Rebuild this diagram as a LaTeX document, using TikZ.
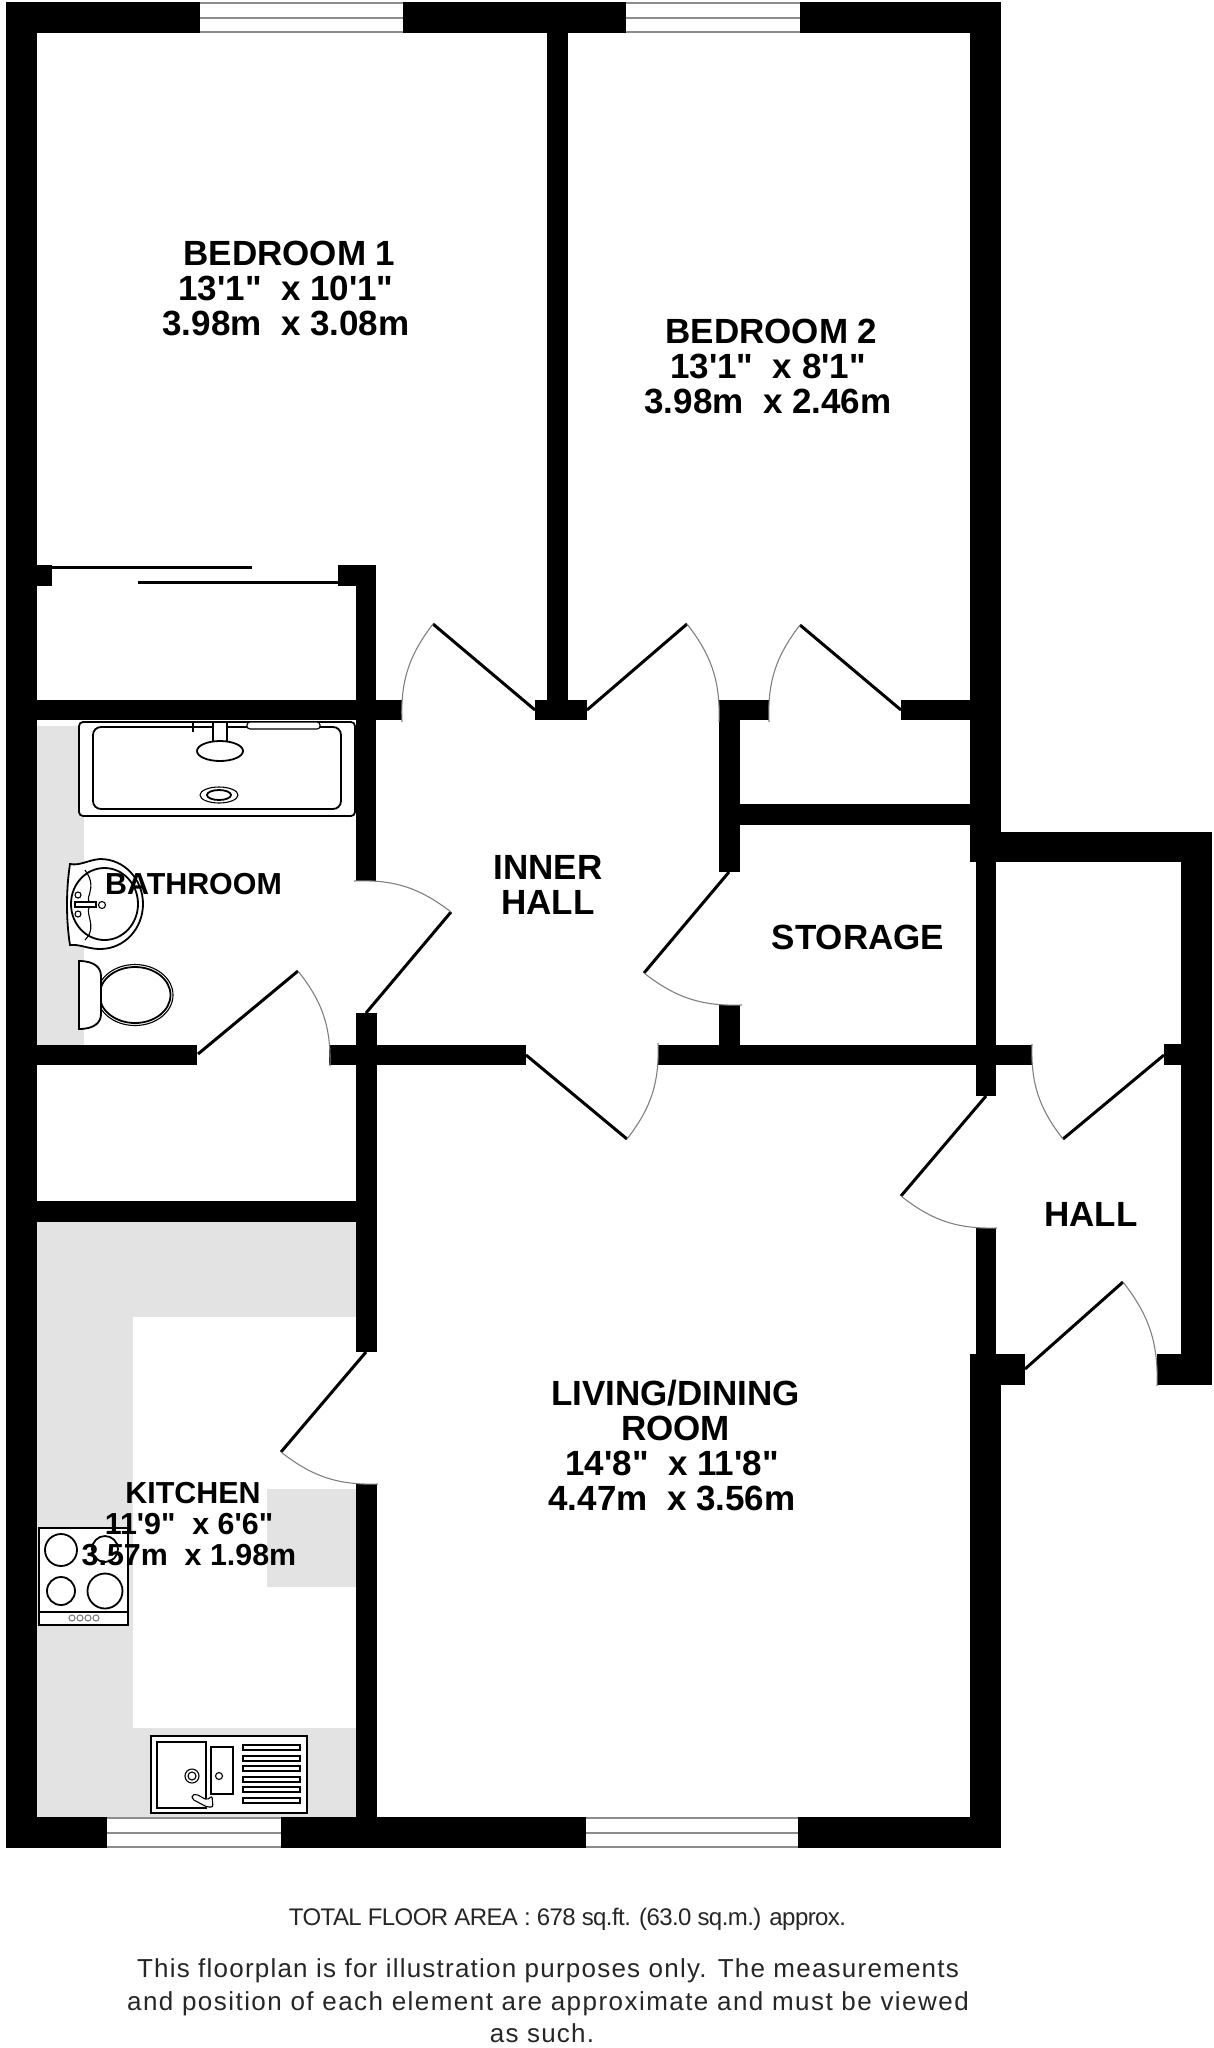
\documentclass[tikz,border=0pt]{standalone}
\usepackage{fontspec}
\setmainfont[Ligatures=TeXOff]{Liberation Sans}
\newfontfamily\notefont[LetterSpace=4.7]{Liberation Sans}
\newfontfamily\notewidefont[LetterSpace=5.6]{Liberation Sans}
\newfontfamily\areafont[LetterSpace=-2.4]{Liberation Sans}
\definecolor{unitgrey}{HTML}{E3E3E3}
\definecolor{swinggrey}{HTML}{808080}
\definecolor{windowgrey}{HTML}{8C8C8C}
\definecolor{notegrey}{HTML}{262626}
\tikzset{
    wall/.style={fill=black},
    unit/.style={fill=unitgrey},
    leaf/.style={line width=3pt},
    swing/.style={draw=swinggrey,line width=1.1pt},
    windowline/.style={draw=windowgrey,line width=2.6pt},
    fitting/.style={line width=1.8pt},
    thinfit/.style={line width=1.1pt},
    roomlabel/.style={font=\bfseries\fontsize{35}{35}\selectfont,align=center,inner sep=0pt},
    kitchenlabel/.style={font=\bfseries\fontsize{30.4}{31}\selectfont,align=center,inner sep=0pt},
    footnote/.style={anchor=base,inner sep=0pt,text=notegrey},
}
\begin{document}
\begin{tikzpicture}[x=1pt,y=-1pt]
    \useasboundingbox[fill=white] (0,0) rectangle (1214,2048);
    % worktops
    \fill[unit] (37,726) rectangle (84,1045);
    \fill[unit] (37,1222) rectangle (356,1317);
    \fill[unit] (37,1317) rectangle (133,1817);
    \fill[unit] (133,1728) rectangle (356,1817);
    \fill[unit] (267,1489) rectangle (356,1587);
    % outer walls
    \fill[wall] (6,2) rectangle (1001,33);
    \fill[wall] (6,2) rectangle (37,1848);
    \fill[wall] (970,2) rectangle (1001,862);
    \fill[wall] (970,1354) rectangle (1001,1848);
    \fill[wall] (6,1817) rectangle (1001,1848);
    \fill[wall] (970,832) rectangle (1212,862);
    \fill[wall] (1181,832) rectangle (1212,1385);
    % inner walls
    \fill[wall] (547,33) rectangle (568,720);
    \fill[wall] (535,700) rectangle (587,720);
    \fill[wall] (37,700) rectangle (402,720);
    \fill[wall] (37,565) rectangle (52,586);
    \fill[wall] (338,565) rectangle (376,586);
    \fill[wall] (356,565) rectangle (376,881);
    \fill[wall] (719,700) rectangle (769,720);
    \fill[wall] (719,700) rectangle (740,872);
    \fill[wall] (719,1005) rectangle (740,1065);
    \fill[wall] (901,700) rectangle (970,720);
    \fill[wall] (740,804) rectangle (970,825);
    \fill[wall] (976,862) rectangle (996,1096);
    \fill[wall] (976,1228) rectangle (996,1354);
    \fill[wall] (1164,1044) rectangle (1181,1065);
    \fill[wall] (970,1354) rectangle (1025,1385);
    \fill[wall] (1157,1354) rectangle (1181,1385);
    \fill[wall] (37,1045) rectangle (197,1065);
    \fill[wall] (329,1045) rectangle (526,1065);
    \fill[wall] (658,1045) rectangle (1032,1065);
    \fill[wall] (356,1013) rectangle (377,1352);
    \fill[wall] (356,1484) rectangle (377,1817);
    \fill[wall] (37,1201) rectangle (356,1222);
    % windows
    \fill[white] (200,2) rectangle (403,33);
    \draw[windowline] (200,3) -- (403,3) (200,18) -- (403,18) (200,32) -- (403,32);
    \fill[white] (626,2) rectangle (800,33);
    \draw[windowline] (626,3) -- (800,3) (626,18) -- (800,18) (626,32) -- (800,32);
    \fill[white] (107,1817) rectangle (281,1848);
    \draw[windowline] (107,1818) -- (281,1818) (107,1833) -- (281,1833) (107,1847) -- (281,1847);
    \fill[white] (586,1817) rectangle (798,1848);
    \draw[windowline] (586,1818) -- (798,1818) (586,1833) -- (798,1833) (586,1847) -- (798,1847);
    % sliding doors
    \draw[line width=2.5pt] (52,567.5) -- (252,567.5);
    \draw[line width=2.5pt] (138,582.5) -- (338,582.5);
    % doors
    \draw[leaf] (535,710) -- (433,624);
    \draw[swing] (433,624) to[bend right=20] (402,722);
    \draw[leaf] (587,710) -- (687,624);
    \draw[swing] (687,624) to[bend left=20] (719,722);
    \draw[leaf] (901,710) -- (800,625);
    \draw[swing] (800,625) to[bend right=20] (769,722);
    \draw[leaf] (366,1013) -- (451,912);
    \draw[swing] (451,912) to[bend right=20] (354,881);
    \draw[leaf] (198,1054) -- (298,971);
    \draw[swing] (298,971) to[bend left=20] (330,1066);
    \draw[leaf] (729,872) -- (644,973);
    \draw[swing] (644,973) to[bend right=20] (742,1005);
    \draw[leaf] (526,1055) -- (627,1139);
    \draw[swing] (627,1139) to[bend right=20] (658,1043);
    \draw[leaf] (366,1352) -- (281,1452);
    \draw[swing] (281,1452) to[bend right=20] (378,1484);
    \draw[leaf] (1164,1055) -- (1063,1139);
    \draw[swing] (1063,1139) to[bend left=20] (1032,1044);
    \draw[leaf] (986,1096) -- (901,1196);
    \draw[swing] (901,1196) to[bend right=20] (997,1228);
    \draw[leaf] (1025,1369) -- (1123,1282);
    \draw[swing] (1123,1282) to[bend left=20] (1157,1386);
    % bath
    \draw[fitting,fill=white,rounded corners=4pt] (79,722) rectangle (355,816);
    \draw[fitting,rounded corners=8pt] (93,727) rectangle (341,809);
    \draw[thinfit,fill=white,rounded corners=3pt] (247,722) rectangle (320,729);
    \draw[fitting,fill=white] (213,722) rectangle (227,745);
    \draw[fitting] (193,722) -- (193,732);
    \draw[fitting] (193,727) -- (213,727) (227,727) -- (234,727);
    \draw[fitting,fill=white] (220,751) ellipse (23 and 10);
    \draw[thinfit] (219,795) ellipse (19 and 8);
    \draw[fitting] (219,795) ellipse (12 and 5);
    % basin
    \draw[fitting,fill=white] (70,864) .. controls (80,866) and (88,860) .. (100,859) .. controls (125,859) and (143,880) .. (143,904) .. controls (143,928) and (125,949) .. (100,949) .. controls (88,949) and (80,944) .. (70,945) .. controls (66,920) and (66,890) .. (70,864) -- cycle;
    \draw[fitting] (104.5,904) ellipse (33.5 and 36);
    \draw[thinfit] (85,870) .. controls (100,890) and (80,900) .. (93,904) .. controls (80,910) and (100,925) .. (85,940);
    \draw[thinfit,fill=white] (78,895) circle (3);
    \draw[thinfit,fill=white] (78,914) circle (3);
    \draw[thinfit,fill=white] (75,902) rectangle (96,907);
    \draw[thinfit,fill=white] (102,905) circle (3.5);
    % toilet
    \draw[thinfit] (135,995) ellipse (38 and 30.5);
    \draw[fitting,fill=white] (135,995) ellipse (35.5 and 28);
    \draw[fitting,fill=white] (79,961) .. controls (95,961) and (101,968) .. (101,976) -- (101,1014) .. controls (101,1022) and (95,1029) .. (79,1029) -- cycle;
    % hob
    \draw[fitting,fill=white] (39,1528) rectangle (128,1625);
    \draw[fitting] (39,1612) -- (128,1612);
    \draw[fitting] (61,1550) circle (16);
    \draw[fitting] (105,1549) circle (13);
    \draw[fitting] (61,1591) circle (14);
    \draw[fitting] (105,1591) circle (17.5);
    \draw[thinfit,draw=swinggrey] (72,1618) circle (3);
    \draw[thinfit,draw=swinggrey] (80,1618) circle (3);
    \draw[thinfit,draw=swinggrey] (88,1618) circle (3);
    \draw[thinfit,draw=swinggrey] (96,1618) circle (3);
    % sink
    \draw[fitting,fill=white] (151,1736) rectangle (307,1813);
    \draw[fitting] (157,1742) rectangle (206,1808);
    \draw[fitting] (211,1747) rectangle (233,1794);
    \draw[thinfit] (192,1776) circle (7);
    \draw[thinfit] (192,1776) circle (4);
    \draw[thinfit] (219,1776) circle (3.5);
    \draw[thinfit] (243,1745) rectangle (300,1750);
    \draw[thinfit] (243,1756) rectangle (300,1761);
    \draw[thinfit] (243,1766) rectangle (300,1771);
    \draw[thinfit] (243,1777) rectangle (300,1782);
    \draw[thinfit] (243,1787) rectangle (300,1792);
    \draw[thinfit] (243,1798) rectangle (300,1803);
    \draw[thinfit,fill=white,rounded corners=2pt] (192,1795) -- (196,1794) -- (207,1800) -- (212,1796) -- (213,1807) -- (207,1807) -- (192,1799) -- cycle;
    % labels
    \node[roomlabel] (bedroomone) at (286,288.5) {\hspace*{7pt}BEDROOM 1\\13'1"~~x 10'1"\\3.98m~~x 3.08m};
    \node[roomlabel] (bedroomtwo) at (768,366.5) {\hspace*{7pt}BEDROOM 2\\13'1"~~x 8'1"\\3.98m~~x 2.46m};
    \node[roomlabel] (innerhall) at (548,885) {INNER\\HALL};
    \node[roomlabel] (storage) at (858,937.5) {STORAGE};
    \node[roomlabel] (hall) at (1091,1214.5) {HALL};
    \node[roomlabel] (living) at (672,1445.5) {\hspace*{7pt}LIVING/DINING\\\hspace*{7pt}ROOM\\14'8"~~x 11'8"\\4.47m~~x 3.56m};
    \node[kitchenlabel] (bathroom) at (193.5,884) {BATHROOM};
    \node[kitchenlabel] (kitchen) at (189,1524.5) {\hspace*{8pt}KITCHEN\\11'9"~~x 6'6"\\3.57m~~x 1.98m};
    \node[footnote,font=\fontsize{24}{24}\areafont] (area) at (567.5,1925) {TOTAL FLOOR AREA : 678 sq.ft. (63.0 sq.m.) approx.};
    \node[footnote,font=\fontsize{26}{26}\notefont] (noteone) at (548,1977) {This floorplan is for illustration purposes only. The measurements};
    \node[footnote,font=\fontsize{26}{26}\notewidefont] (notetwo) at (548,2010) {and position of each element are approximate and must be viewed};
    \node[footnote,font=\fontsize{26}{26}\notefont] (notethree) at (542,2042) {as such.};
\end{tikzpicture}
\end{document}
